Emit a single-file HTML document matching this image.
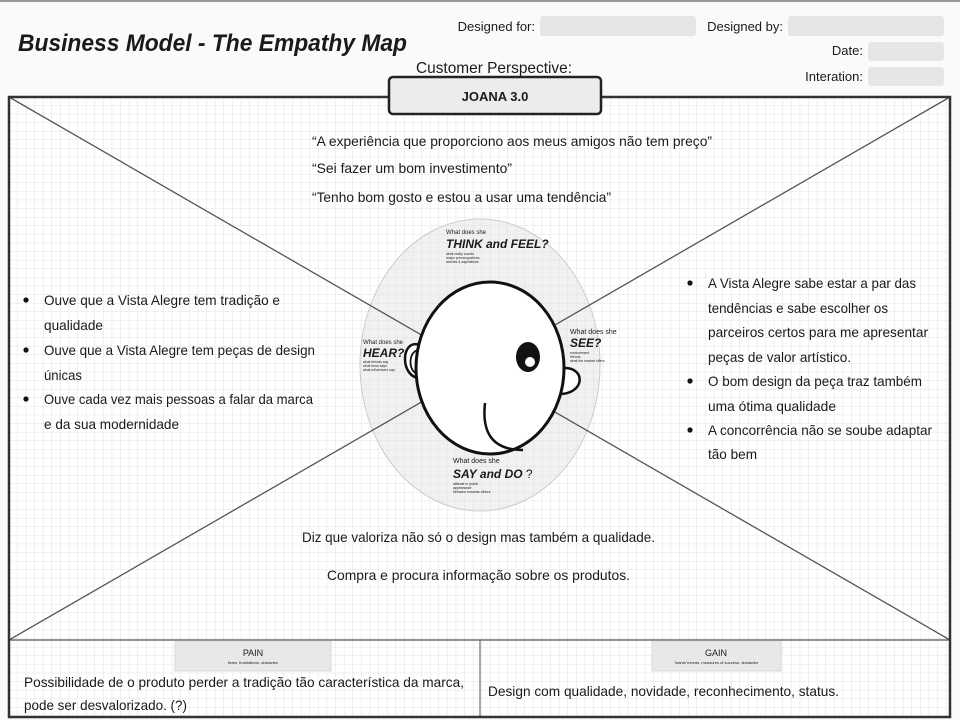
<!DOCTYPE html>
<html><head><meta charset="utf-8"><style>
html,body{margin:0;padding:0;background:#fff;}
svg{display:block;}
text{font-family:"Liberation Sans",sans-serif;fill:#1a1a1a;}
</style></head><body>
<svg width="960" height="720" viewBox="0 0 960 720" xmlns="http://www.w3.org/2000/svg">
<defs>
<pattern id="g" width="8.6" height="8.6" patternUnits="userSpaceOnUse" x="9" y="97">
<path d="M8.6 0V8.6H0" fill="none" stroke="#e2e2e2" stroke-width="1"/>
</pattern>
</defs>
<rect x="0" y="0" width="960" height="720" fill="#fafafa"/>
<rect x="0" y="0" width="960" height="2" fill="#999"/>
<!-- header -->
<text x="18" y="51" font-size="24" font-weight="bold" font-style="italic" textLength="389" lengthAdjust="spacingAndGlyphs" fill="#222">Business Model - The Empathy Map</text>
<text x="535" y="31" font-size="13" text-anchor="end" fill="#333">Designed for:</text>
<rect x="540" y="16" width="156" height="20" rx="3" fill="#e6e6e6"/>
<text x="783" y="31" font-size="13" text-anchor="end" fill="#333">Designed by:</text>
<rect x="788" y="16" width="156" height="20" rx="3" fill="#e6e6e6"/>
<text x="863" y="55" font-size="13" text-anchor="end" fill="#333">Date:</text>
<rect x="868" y="42" width="76" height="19" rx="3" fill="#e6e6e6"/>
<text x="863" y="81" font-size="13" text-anchor="end" fill="#333">Interation:</text>
<rect x="868" y="67" width="76" height="19" rx="3" fill="#e6e6e6"/>
<text x="416" y="73" font-size="16" textLength="156" lengthAdjust="spacingAndGlyphs" fill="#333">Customer Perspective:</text>
<!-- main box -->
<rect x="9" y="97" width="941" height="620" fill="#fff"/>
<rect x="9" y="97" width="941" height="620" fill="url(#g)"/>
<ellipse cx="480" cy="365" rx="120" ry="146" fill="rgba(225,225,225,0.45)" stroke="#ccc" stroke-width="1"/>
<line x1="9" y1="97" x2="950" y2="640" stroke="#555" stroke-width="1.3"/>
<line x1="950" y1="97" x2="9" y2="640" stroke="#555" stroke-width="1.3"/>
<line x1="9" y1="640" x2="950" y2="640" stroke="#555" stroke-width="1.3"/>
<line x1="480" y1="640" x2="480" y2="717" stroke="#555" stroke-width="1"/>
<rect x="9" y="97" width="941" height="620" fill="none" stroke="#333" stroke-width="2.5"/>
<!-- title box -->
<rect x="389" y="77" width="212" height="37" rx="4" fill="#ececec" stroke="#222" stroke-width="2.5"/>
<text x="495" y="101" font-size="13" font-weight="bold" text-anchor="middle" fill="#111">JOANA 3.0</text>
<!-- circle labels -->
<text x="446" y="234" font-size="6" fill="#444">What does she</text>
<text x="446" y="248" font-size="12" font-weight="bold" font-style="italic" fill="#333">THINK and FEEL?</text>
<text x="446" y="255" font-size="3.5" fill="#666">what really counts</text>
<text x="446" y="259" font-size="3.5" fill="#666">major preoccupations</text>
<text x="446" y="263" font-size="3.5" fill="#666">worries &amp; aspirations</text>
<text x="363" y="344" font-size="6" fill="#444">What does she</text>
<text x="363" y="357" font-size="12" font-weight="bold" font-style="italic" fill="#333">HEAR?</text>
<text x="363" y="363" font-size="3.5" fill="#666">what friends say</text>
<text x="363" y="367" font-size="3.5" fill="#666">what boss says</text>
<text x="363" y="371" font-size="3.5" fill="#666">what influencers say</text>
<text x="570" y="334" font-size="7" fill="#444">What does she</text>
<text x="570" y="347" font-size="12" font-weight="bold" font-style="italic" fill="#333">SEE?</text>
<text x="570" y="354" font-size="3.5" fill="#666">environment</text>
<text x="570" y="358" font-size="3.5" fill="#666">friends</text>
<text x="570" y="362" font-size="3.5" fill="#666">what the market offers</text>
<text x="453" y="463" font-size="7" fill="#444">What does she</text>
<text x="453" y="478" font-size="12" font-weight="bold" font-style="italic" fill="#333">SAY and DO <tspan font-weight="normal" font-style="normal">?</tspan></text>
<text x="453" y="485" font-size="3.5" fill="#666">attitude in public</text>
<text x="453" y="489" font-size="3.5" fill="#666">appearance</text>
<text x="453" y="493" font-size="3.5" fill="#666">behavior towards others</text>
<!-- head -->
<path d="M420 345 C400 338 400 378 420 378" fill="#fff" stroke="#111" stroke-width="2.5"/>
<path d="M418 350 C408 352 408 372 418 374" fill="none" stroke="#111" stroke-width="1.8"/>
<path d="M565 368 C585 368 585 392 562 394" fill="#fff" stroke="#111" stroke-width="2.5"/>
<ellipse cx="490" cy="368" rx="74" ry="86" fill="#fff" stroke="#111" stroke-width="3"/>
<ellipse cx="528" cy="357" rx="12" ry="15" fill="#111"/>
<circle cx="530" cy="362" r="5" fill="#fff"/>
<path d="M485 403 C482 430 490 450 523 450" fill="none" stroke="#111" stroke-width="2.5"/>
<!-- quotes -->
<g font-size="14">
<text x="312" y="146" textLength="400" lengthAdjust="spacingAndGlyphs">“A experiência que proporciono aos meus amigos não tem preço”</text>
<text x="312" y="173" textLength="200" lengthAdjust="spacingAndGlyphs">“Sei fazer um bom investimento”</text>
<text x="312" y="202" textLength="299" lengthAdjust="spacingAndGlyphs">“Tenho bom gosto e estou a usar uma tendência”</text>
<!-- left -->
<circle cx="26" cy="300" r="2.6" fill="#111"/>
<circle cx="26" cy="350" r="2.6" fill="#111"/>
<circle cx="26" cy="399" r="2.6" fill="#111"/>
<text x="44" y="305" textLength="236" lengthAdjust="spacingAndGlyphs">Ouve que a Vista Alegre tem tradição e</text>
<text x="44" y="330" textLength="59" lengthAdjust="spacingAndGlyphs">qualidade</text>
<text x="44" y="355" textLength="271" lengthAdjust="spacingAndGlyphs">Ouve que a Vista Alegre tem peças de design</text>
<text x="44" y="380" textLength="38" lengthAdjust="spacingAndGlyphs">únicas</text>
<text x="44" y="404" textLength="269" lengthAdjust="spacingAndGlyphs">Ouve cada vez mais pessoas a falar da marca</text>
<text x="44" y="429" textLength="135" lengthAdjust="spacingAndGlyphs">e da sua modernidade</text>
<!-- right -->
<circle cx="690" cy="283" r="2.6" fill="#111"/>
<circle cx="690" cy="381" r="2.6" fill="#111"/>
<circle cx="690" cy="430" r="2.6" fill="#111"/>
<text x="708" y="288" textLength="208" lengthAdjust="spacingAndGlyphs">A Vista Alegre sabe estar a par das</text>
<text x="708" y="313" textLength="180" lengthAdjust="spacingAndGlyphs">tendências e sabe escolher os</text>
<text x="708" y="337" textLength="220" lengthAdjust="spacingAndGlyphs">parceiros certos para me apresentar</text>
<text x="708" y="362" textLength="143" lengthAdjust="spacingAndGlyphs">peças de valor artístico.</text>
<text x="708" y="386" textLength="214" lengthAdjust="spacingAndGlyphs">O bom design da peça traz também</text>
<text x="708" y="411" textLength="128" lengthAdjust="spacingAndGlyphs">uma ótima qualidade</text>
<text x="708" y="435" textLength="224" lengthAdjust="spacingAndGlyphs">A concorrência não se soube adaptar</text>
<text x="708" y="459" textLength="49" lengthAdjust="spacingAndGlyphs">tão bem</text>
<!-- bottom -->
<text x="302" y="542" textLength="353" lengthAdjust="spacingAndGlyphs">Diz que valoriza não só o design mas também a qualidade.</text>
<text x="327" y="580" textLength="303" lengthAdjust="spacingAndGlyphs">Compra  e procura informação sobre os produtos.</text>
</g>
<!-- pain/gain -->
<rect x="175" y="641" width="156" height="30" fill="#e8e8e8" stroke="#d8d8d8"/>
<text x="253" y="656" font-size="9" text-anchor="middle" fill="#333">PAIN</text>
<text x="253" y="664" font-size="4" text-anchor="middle" fill="#666">fears, frustrations, obstacles</text>
<rect x="652" y="641" width="129" height="30" fill="#e8e8e8" stroke="#d8d8d8"/>
<text x="716" y="656" font-size="9" text-anchor="middle" fill="#333">GAIN</text>
<text x="716" y="664" font-size="4" text-anchor="middle" fill="#666">"wants"/needs, measures of success, obstacles</text>
<g font-size="14">
<text x="24" y="687" textLength="440" lengthAdjust="spacingAndGlyphs">Possibilidade de o produto perder a tradição tão característica da marca,</text>
<text x="24" y="710" textLength="163" lengthAdjust="spacingAndGlyphs">pode ser desvalorizado. (?)</text>
<text x="488" y="696" textLength="351" lengthAdjust="spacingAndGlyphs">Design com qualidade, novidade, reconhecimento, status.</text>
</g>
</svg>
</body></html>
